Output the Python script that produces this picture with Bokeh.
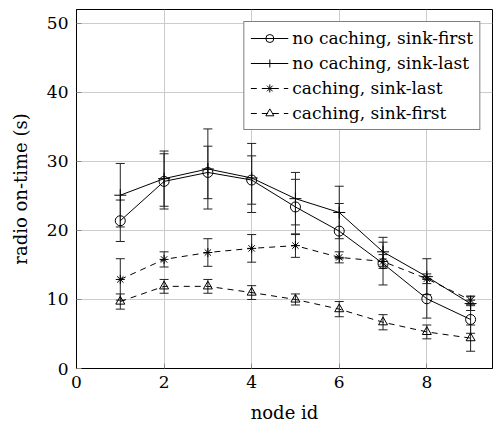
from bokeh.plotting import figure
from bokeh.models import ColumnDataSource, Whisker, TeeHead, Legend, LegendItem, FixedTicker
from bokeh.embed import file_html
from bokeh.resources import INLINE

nodes = [1, 2, 3, 4, 5, 6, 7, 8, 9]
nc_sink_first = [21.4, 27.1, 28.4, 27.3, 23.4, 19.9, 15.2, 10.1, 7.1]
nc_sink_first_err = [3.0, 4.0, 3.8, 3.5, 4.0, 4.0, 3.1, 2.8, 2.0]
nc_sink_last = [25.1, 27.5, 28.9, 27.6, 24.6, 22.6, 16.9, 13.3, 9.4]
nc_sink_last_err = [4.6, 4.0, 5.8, 5.0, 3.8, 3.8, 2.1, 2.6, 1.0]
c_sink_last = [12.9, 15.8, 16.8, 17.4, 17.8, 16.1, 15.5, 13.0, 9.9]
c_sink_last_err = [3.0, 1.1, 2.0, 2.0, 1.7, 0.8, 1.0, 0.7, 0.6]
c_sink_first = [9.7, 11.9, 11.9, 11.0, 10.0, 8.6, 6.7, 5.3, 4.4]
c_sink_first_err = [1.1, 1.0, 1.0, 1.0, 0.8, 1.1, 1.1, 1.0, 1.9]

labels = ["no caching, sink-first", "no caching, sink-last",
          "caching, sink-last", "caching, sink-first"]
x_ticks = [0, 2, 4, 6, 8]
y_ticks = [0, 10, 20, 30, 40, 50]

FONT = "DejaVu Serif"

p = figure(width=494, height=417, frame_width=416, frame_height=359,
           x_range=(0, 9.5), y_range=(0, 52),
           output_backend="svg", toolbar_location=None,
           min_border_left=76, min_border_right=2, min_border_top=9, min_border_bottom=40)
p.outline_line_color = "black"
p.outline_line_width = 1
p.background_fill_color = "white"
p.border_fill_color = "white"

for ax in (p.xaxis[0], p.yaxis[0]):
    ax.major_tick_in = 5
    ax.major_tick_out = 0
    ax.minor_tick_line_color = None
    ax.major_tick_line_color = "#888888"
    ax.axis_line_color = "black"
    ax.major_label_text_font = FONT
    ax.major_label_text_font_size = "17px"
    ax.major_label_text_color = "black"
    ax.axis_label_text_font = FONT
    ax.axis_label_text_font_size = "18px"
    ax.axis_label_text_font_style = "normal"
    ax.axis_label_text_color = "black"

p.xaxis.ticker = FixedTicker(ticks=x_ticks)
p.yaxis.ticker = FixedTicker(ticks=y_ticks)
p.xaxis.axis_label = "node id"
p.yaxis.axis_label = "radio on-time (s)"
p.xaxis.major_label_standoff = 7
p.yaxis.major_label_standoff = 8
p.xaxis.axis_label_standoff = 11
p.yaxis.axis_label_standoff = 13
p.grid.grid_line_color = "#cccccc"
p.grid.grid_line_width = 1

series = [
    (nc_sink_first, nc_sink_first_err, "circle", None, 10),
    (nc_sink_last, nc_sink_last_err, "cross", None, 12),
    (c_sink_last, c_sink_last_err, "asterisk", "6 5", 9),
    (c_sink_first, c_sink_first_err, "triangle", "6 5", 9),
]

items = []
for (vals, errs, marker, dash, size), lab in zip(series, labels):
    src = ColumnDataSource(dict(x=nodes, y=vals,
                                lo=[v - e for v, e in zip(vals, errs)],
                                hi=[v + e for v, e in zip(vals, errs)]))
    w = Whisker(source=src, base="x", lower="lo", upper="hi", dimension="height",
                line_color="#222222", line_width=1,
                upper_head=TeeHead(size=9, line_color="#222222", line_width=1),
                lower_head=TeeHead(size=9, line_color="#222222", line_width=1))
    p.add_layout(w)
    kw = {}
    if dash:
        kw["line_dash"] = dash
    r1 = p.line("x", "y", source=src, line_color="black", line_width=1, **kw)
    r2 = p.scatter("x", "y", source=src, marker=marker, size=size,
                   line_color="black", fill_color="white", fill_alpha=0.0, line_width=1)
    items.append(LegendItem(label=lab, renderers=[r1, r2]))

legend = Legend(items=items, location="top_right",
                label_text_font=FONT, label_text_font_size="17px",
                label_text_color="black",
                border_line_color="black", border_line_width=1,
                background_fill_color="white", background_fill_alpha=1.0,
                glyph_width=38, glyph_height=20, label_height=20,
                spacing=5, padding=6, margin=12, label_standoff=4)
p.add_layout(legend, "center")

open("out.html", "w").write(file_html(p, INLINE))
